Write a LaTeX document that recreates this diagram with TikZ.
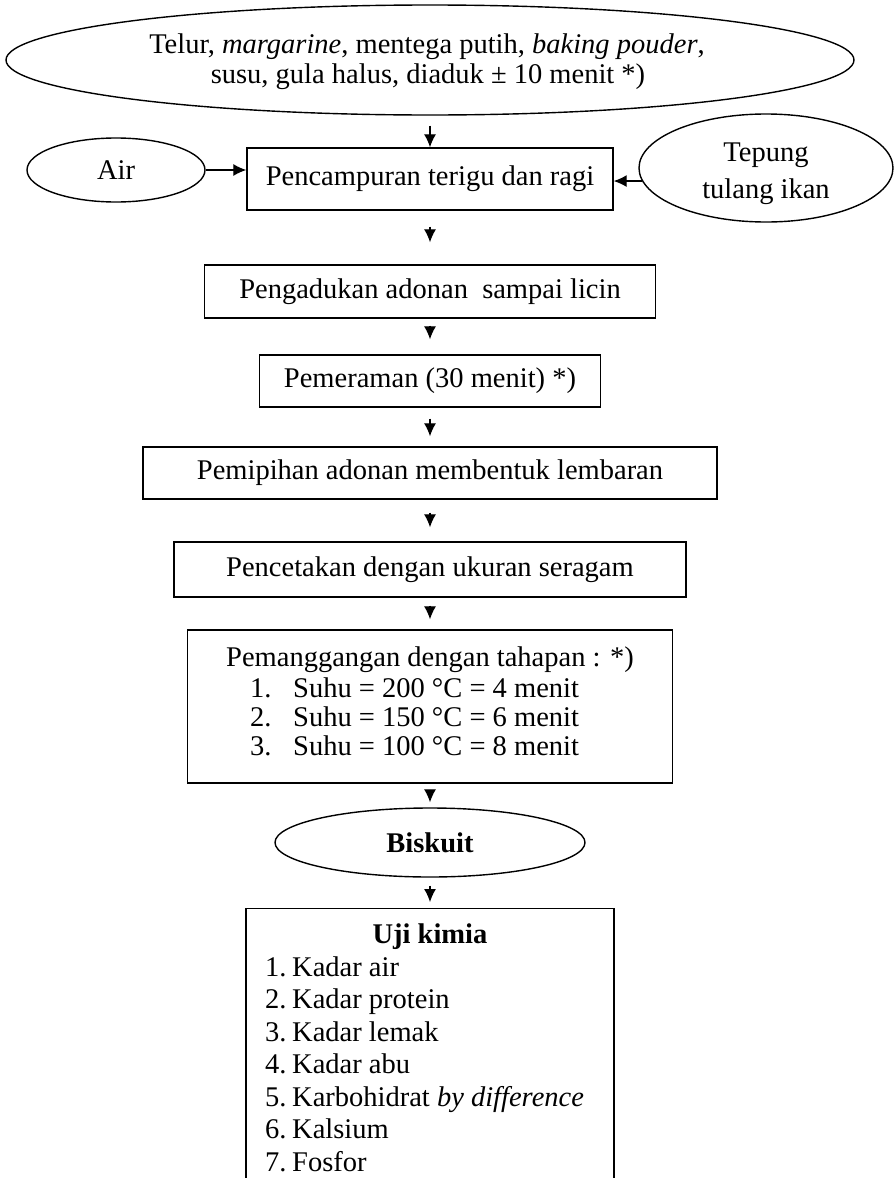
\documentclass[tikz,border=0pt]{standalone}
\usepackage{fontspec}
\setmainfont{Liberation Serif}
\usetikzlibrary{arrows.meta,shapes.geometric}
\begin{document}
\begin{tikzpicture}[x=1pt,y=-1pt,
  every node/.style={font=\fontsize{28.5}{32}\selectfont},
  box/.style={draw, line width=1.4pt, rectangle, inner sep=0pt},
  oval/.style={draw, line width=1.4pt, ellipse, inner sep=0pt},
  arr/.style={line width=1.2pt, -{Latex[length=13pt,width=12pt]}},
  item/.style={anchor=base west, inner sep=0pt},
]
\useasboundingbox (0,0) rectangle (896,1178);
\clip (0,0) rectangle (896,1178);
% top ellipse
\node[oval, minimum width=848pt, minimum height=110pt] (top) at (430,60) {};
\node (t1) at (427,47) {Telur, \textit{margarine}, mentega putih, \textit{baking pouder},};
\node (t2) at (428,77) {susu, gula halus, diaduk ± 10 menit *)};
% mixing row
\node[box, minimum width=366pt, minimum height=62pt] (p1) at (430,179) {Pencampuran terigu dan ragi};
\node[oval, minimum width=178pt, minimum height=64pt] (air) at (116,170) {Air};
\node[oval, minimum width=254pt, minimum height=108pt] (tep) at (766,168) {};
\node (tep1) at (766,155) {Tepung};
\node (tep2) at (766,192) {tulang ikan};
% process boxes
\node[box, minimum width=451pt, minimum height=53pt] (p2) at (430,291.5) {Pengadukan adonan\ \ sampai licin};
\node[box, minimum width=341pt, minimum height=52pt] (p3) at (430,381) {Pemeraman (30 menit) *)};
\node[box, minimum width=574pt, minimum height=52pt] (p4) at (430,473) {Pemipihan adonan membentuk lembaran};
\node[box, minimum width=512pt, minimum height=55pt] (p5) at (430,569.5) {Pencetakan dengan ukuran seragam};
\node[box, minimum width=485pt, minimum height=153pt] (p6) at (430,706.5) {};
\node (p6t) at (430,660) {Pemanggangan dengan tahapan : *)};
\node[item] (p6a) at (250,697) {\makebox[43pt][l]{1.}Suhu = 200 °C = 4 menit};
\node[item] (p6b) at (250,726) {\makebox[43pt][l]{2.}Suhu = 150 °C = 6 menit};
\node[item] (p6c) at (250,755) {\makebox[43pt][l]{3.}Suhu = 100 °C = 8 menit};
% product
\node[oval, minimum width=310pt, minimum height=69pt] (bis) at (430,842.5) {\bfseries Biskuit};
% tests
\node[box, minimum width=368pt, minimum height=320pt, anchor=north] (uji) at (430,908) {};
\node (ujit) at (430,937) {\bfseries Uji kimia};
\node[item] (u1) at (265,976) {\makebox[27pt][l]{1.}Kadar air};
\node[item] (u2) at (265,1008) {\makebox[27pt][l]{2.}Kadar protein};
\node[item] (u3) at (265,1041) {\makebox[27pt][l]{3.}Kadar lemak};
\node[item] (u4) at (265,1073) {\makebox[27pt][l]{4.}Kadar abu};
\node[item] (u5) at (265,1106) {\makebox[27pt][l]{5.}Karbohidrat \textit{by difference}};
\node[item] (u6) at (265,1138) {\makebox[27pt][l]{6.}Kalsium};
\node[item] (u7) at (265,1171) {\makebox[27pt][l]{7.}Fosfor};
% connectors
\draw[arr, shorten <=10pt] (top) -- (p1);
\draw[arr] (air) -- (air -| p1.west);
\draw[arr] (tep.186) -- (tep.186 -| p1.east);
\draw[arr, shorten <=16pt, shorten >=22pt] (p1) -- (p2);
\draw[arr, shorten <=7pt, shorten >=15pt] (p2) -- (p3);
\draw[arr, shorten <=11pt, shorten >=10pt] (p3) -- (p4);
\draw[arr, shorten <=13pt, shorten >=14pt] (p4) -- (p5);
\draw[arr, shorten <=8pt, shorten >=10pt] (p5) -- (p6);
\draw[arr, shorten <=6pt, shorten >=5pt] (p6) -- (bis);
\draw[arr, shorten <=8pt, shorten >=6pt] (bis) -- (uji);
\end{tikzpicture}
\end{document}
